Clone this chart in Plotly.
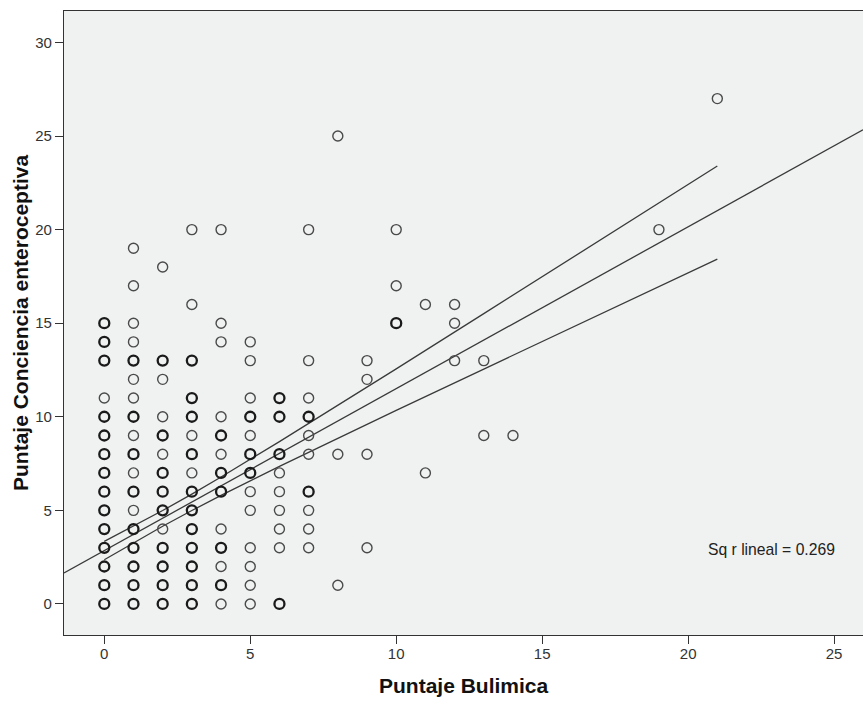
import plotly.graph_objects as go

# ---- data: Puntaje Bulimica (x) vs Puntaje Conciencia enteroceptiva (y) ----
# each column: x value -> list of y values; dense = overplotted (bold) points
col_x0 = [0, 1, 2, 3, 4, 5, 6, 7, 8, 9, 10, 11, 13, 14, 15]
col_x1 = [0, 1, 2, 3, 4, 5, 6, 7, 8, 9, 10, 11, 12, 13, 14, 15, 17, 19]
col_x2 = [0, 1, 2, 3, 4, 5, 6, 7, 8, 9, 10, 12, 13, 18]
col_x3 = [0, 1, 2, 3, 4, 5, 6, 7, 8, 9, 10, 11, 13, 16, 20]
col_x4 = [0, 1, 2, 3, 4, 6, 7, 8, 9, 10, 14, 15, 20]
col_x5 = [0, 1, 2, 3, 5, 6, 7, 8, 9, 10, 11, 13, 14]
col_x6 = [0, 3, 4, 5, 6, 7, 8, 10, 11]
col_x7 = [3, 4, 5, 6, 8, 9, 10, 11, 13, 20]
col_x8 = [1, 8, 25]
col_x9 = [3, 8, 12, 13]
col_x10 = [15, 17, 20]
col_x11 = [7, 16]
col_x12 = [13, 15, 16]
col_x13 = [9, 13]
col_x14 = [9]
col_x19 = [20]
col_x21 = [27]

dense_pts = {
    0: [0, 1, 2, 3, 4, 5, 6, 7, 8, 9, 10, 13, 14, 15],
    1: [0, 1, 2, 3, 4, 6, 8, 10, 13],
    2: [0, 1, 2, 3, 5, 6, 7, 9, 13],
    3: [0, 1, 2, 3, 4, 5, 6, 8, 10, 11, 13],
    4: [1, 3, 6, 7, 9],
    5: [7, 8, 10],
    6: [0, 8, 10, 11],
    7: [6, 10],
    10: [15],
}

# linear fit and 95% mean confidence band
fit_intercept = 2.85
fit_slope = 0.865
r2_label = "Sq r lineal = 0.269"

ci_x = [0, 1, 2, 3, 4, 6, 8, 10, 13, 16, 19, 21]
ci_upper = [3.34, 4.15, 4.99, 5.87, 6.78, 8.67, 10.61, 12.56, 15.51, 18.47, 21.43, 23.40]
ci_lower = [2.36, 3.27, 4.15, 4.99, 5.80, 7.35, 8.85, 10.34, 12.55, 14.75, 16.95, 18.42]

x_range = [-1.38, 25.99]
y_range = [-1.66, 31.68]
x_ticks = [0, 5, 10, 15, 20, 25]
y_ticks = [0, 5, 10, 15, 20, 25, 30]

columns = {0: col_x0, 1: col_x1, 2: col_x2, 3: col_x3, 4: col_x4, 5: col_x5,
           6: col_x6, 7: col_x7, 8: col_x8, 9: col_x9, 10: col_x10, 11: col_x11,
           12: col_x12, 13: col_x13, 14: col_x14, 19: col_x19, 21: col_x21}

lx, ly, dx, dy = [], [], [], []
for xv, ys in columns.items():
    for yv in ys:
        if yv in dense_pts.get(xv, []):
            dx.append(xv); dy.append(yv)
        else:
            lx.append(xv); ly.append(yv)

fig = go.Figure()
line_col = "#3a3a3a"
fig.add_trace(go.Scatter(x=ci_x, y=ci_upper, mode="lines",
                         line=dict(color=line_col, width=1.3), hoverinfo="skip"))
fig.add_trace(go.Scatter(x=ci_x, y=ci_lower, mode="lines",
                         line=dict(color=line_col, width=1.3), hoverinfo="skip"))
fig.add_trace(go.Scatter(x=x_range,
                         y=[fit_intercept + fit_slope * v for v in x_range],
                         mode="lines", line=dict(color=line_col, width=1.3),
                         hoverinfo="skip"))
fig.add_trace(go.Scatter(x=lx, y=ly, mode="markers",
                         marker=dict(symbol="circle-open", size=10,
                                     color="#4a4a4a",
                                     line=dict(width=1.4, color="#4a4a4a"))))
fig.add_trace(go.Scatter(x=dx, y=dy, mode="markers",
                         marker=dict(symbol="circle-open", size=10,
                                     color="#1a1a1a",
                                     line=dict(width=2.3, color="#1a1a1a"))))

fig.add_annotation(x=20.6, y=2.9, xref="x", yref="y", text=r2_label,
                   showarrow=False, xanchor="left", yanchor="middle",
                   font=dict(family="Liberation Sans, Arial", size=15.7, color="#222222"))

title_font = dict(family="Liberation Sans, Arial", size=21, color="#111111")
fig.add_annotation(x=0.5, y=0, xref="paper", yref="paper",
                   text="<b>Puntaje Bulimica</b>", showarrow=False,
                   xanchor="center", yanchor="middle", yshift=-50, font=title_font)
fig.add_annotation(x=0, y=0.5, xref="paper", yref="paper",
                   text="<b>Puntaje Conciencia enteroceptiva</b>", showarrow=False,
                   textangle=-90, xanchor="center", yanchor="middle", xshift=-44,
                   font=title_font)

axis_font = dict(family="Liberation Sans, Arial", size=15, color="#333333")

fig.update_layout(
    width=863, height=704,
    margin=dict(l=64, r=0, t=11, b=69),
    paper_bgcolor="white",
    plot_bgcolor="#f0f1f1",
    showlegend=False,
    xaxis=dict(range=x_range, tickvals=x_ticks, showgrid=False, zeroline=False,
               showline=True, linecolor="#333333", linewidth=1.2, mirror=True,
               ticks="outside", ticklen=8, tickcolor="#333333", tickwidth=1,
               ticklabelstandoff=-3,
               tickfont=axis_font, automargin=False),
    yaxis=dict(range=y_range, tickvals=y_ticks, showgrid=False, zeroline=False,
               showline=True, linecolor="#333333", linewidth=1.2, mirror=False,
               ticks="outside", ticklen=8, tickcolor="#333333", tickwidth=1,
               tickfont=axis_font, automargin=False),
)

# remove the default page margin so the figure fills the window exactly
fig.write_html("out.html",
               config={"displayModeBar": False},
               post_script="document.body.style.margin='0px';"
                           "document.body.style.overflow='hidden';")
